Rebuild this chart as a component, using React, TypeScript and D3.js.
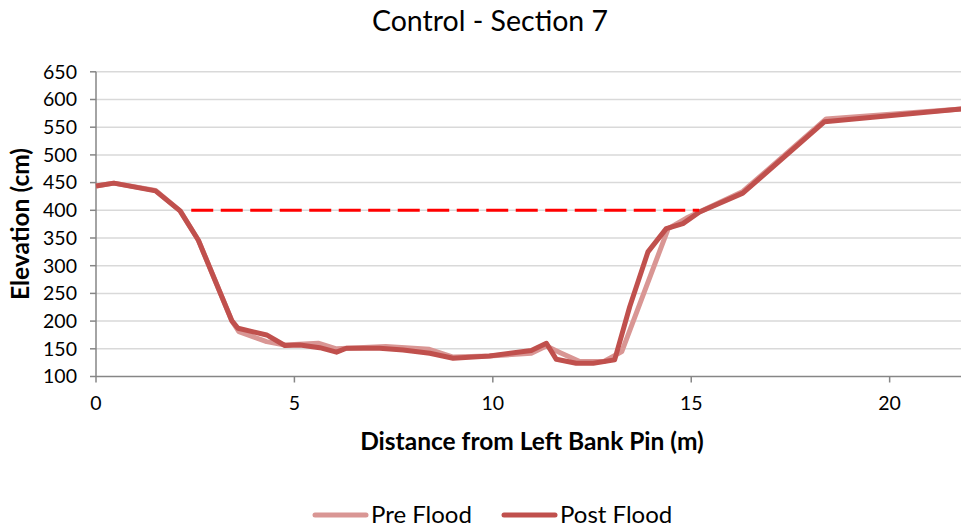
import React from "react";
import * as d3 from "d3";

// Distance (m) / elevation (cm)
const preDist = [0, 0.45, 1.5, 2.12, 2.58, 3.42, 3.6, 4.3, 4.76, 5.6, 6.06, 7.3, 8.4, 9.0, 9.9, 10.97, 11.35, 11.7, 12.19, 12.8, 13.25, 14.42, 14.88, 16.3, 18.4, 22];
const preElev = [444, 449, 436, 399, 346, 201, 181, 163, 157, 160, 150, 154, 149, 135, 137, 142, 155, 143, 127, 127, 145, 367, 386, 434, 565, 584];

const postDist = [0, 0.45, 1.5, 2.12, 2.58, 3.42, 3.58, 4.3, 4.76, 5.14, 5.64, 6.06, 6.31, 7.15, 7.74, 8.41, 9.0, 9.92, 10.97, 11.35, 11.6, 12.1, 12.53, 13.07, 13.45, 13.91, 14.37, 14.79, 15.21, 16.3, 18.36, 22];
const postElev = [444, 449, 435, 399, 346, 201, 187, 175, 156, 157, 152, 144, 151, 151, 148, 142, 133, 137, 147, 160, 131, 124, 124, 130, 226, 325, 367, 376, 397, 431, 560, 584];

const floodLevel = 400;
const floodDist = [2.4, 15.2];

const yTicks = [100, 150, 200, 250, 300, 350, 400, 450, 500, 550, 600, 650];
const xTicks = [0, 5, 10, 15, 20];

const W = 961;
const H = 531;
const margin = { left: 96, right: W - 969, top: 71.8, bottom: H - 376.5 };
const font = "Lato, 'Open Sans', sans-serif";

const preColor = "#D99694";
const postColor = "#C0504D";

export default function App() {
  const x = d3.scaleLinear().domain([0, 22]).range([margin.left, W - margin.right]);
  const y = d3.scaleLinear().domain([100, 650]).range([H - margin.bottom, margin.top]);

  const line = d3
    .line<[number, number]>()
    .x((d) => x(d[0]))
    .y((d) => y(d[1]));

  const pre = preDist.map((d, i) => [d, preElev[i]] as [number, number]);
  const post = postDist.map((d, i) => [d, postElev[i]] as [number, number]);

  return (
    <svg width={W} height={H} style={{ position: "absolute", left: 0, top: 0, background: "#fff" }}>
      <rect width={W} height={H} fill="#fff" />
      <text x={490} y={31} textAnchor="middle" fontFamily={font} fontSize={28.5} fill="#000">
        Control - Section 7
      </text>

      {/* gridlines */}
      {yTicks.slice(1).map((t) => (
        <line key={t} x1={x(0)} x2={W} y1={y(t)} y2={y(t)} stroke="#D9D9D9" strokeWidth={1.5} />
      ))}

      {/* y axis */}
      <line x1={x(0)} x2={x(0)} y1={y(650)} y2={y(100)} stroke="#868686" strokeWidth={1.5} />
      {yTicks.map((t) => (
        <g key={t}>
          <line x1={x(0) - 6} x2={x(0)} y1={y(t)} y2={y(t)} stroke="#868686" strokeWidth={1.5} />
          <text x={x(0) - 19} y={y(t)} dy="0.35em" textAnchor="end" fontFamily={font} fontSize={19.5} fill="#000">
            {t}
          </text>
        </g>
      ))}

      {/* x axis */}
      <line x1={x(0)} x2={W} y1={y(100)} y2={y(100)} stroke="#868686" strokeWidth={1.5} />
      {xTicks.map((t) => (
        <g key={t}>
          <line x1={x(t)} x2={x(t)} y1={y(100)} y2={y(100) + 6} stroke="#868686" strokeWidth={1.5} />
          <text x={x(t)} y={y(100) + 33} textAnchor="middle" fontFamily={font} fontSize={19.5} fill="#000">
            {t}
          </text>
        </g>
      ))}

      <text x={532} y={450} textAnchor="middle" fontFamily={font} fontSize={24.5} fontWeight="bold" fill="#000">
        Distance from Left Bank Pin (m)
      </text>
      <text
        transform={`translate(29,${224}) rotate(-90)`}
        textAnchor="middle"
        fontFamily={font}
        fontSize={24.5}
        fontWeight="bold"
        fill="#000"
      >
        Elevation (cm)
      </text>

      {/* series */}
      <path d={line(pre) || ""} fill="none" stroke={preColor} strokeWidth={5} strokeLinejoin="round" />
      <path d={line(post) || ""} fill="none" stroke={postColor} strokeWidth={5} strokeLinejoin="round" />
      <line
        x1={x(floodDist[0])}
        x2={x(floodDist[1])}
        y1={y(floodLevel)}
        y2={y(floodLevel)}
        stroke="#FF0000"
        strokeWidth={3}
        strokeDasharray="22 7.5"
      />

      {/* legend */}
      <line x1={315} x2={366} y1={515} y2={515} stroke={preColor} strokeWidth={5} strokeLinecap="round" />
      <text x={371} y={515} dy="0.35em" fontFamily={font} fontSize={24} fill="#000">
        Pre Flood
      </text>
      <line x1={504} x2={555} y1={515} y2={515} stroke={postColor} strokeWidth={5} strokeLinecap="round" />
      <text x={560} y={515} dy="0.35em" fontFamily={font} fontSize={24} fill="#000">
        Post Flood
      </text>
    </svg>
  );
}
